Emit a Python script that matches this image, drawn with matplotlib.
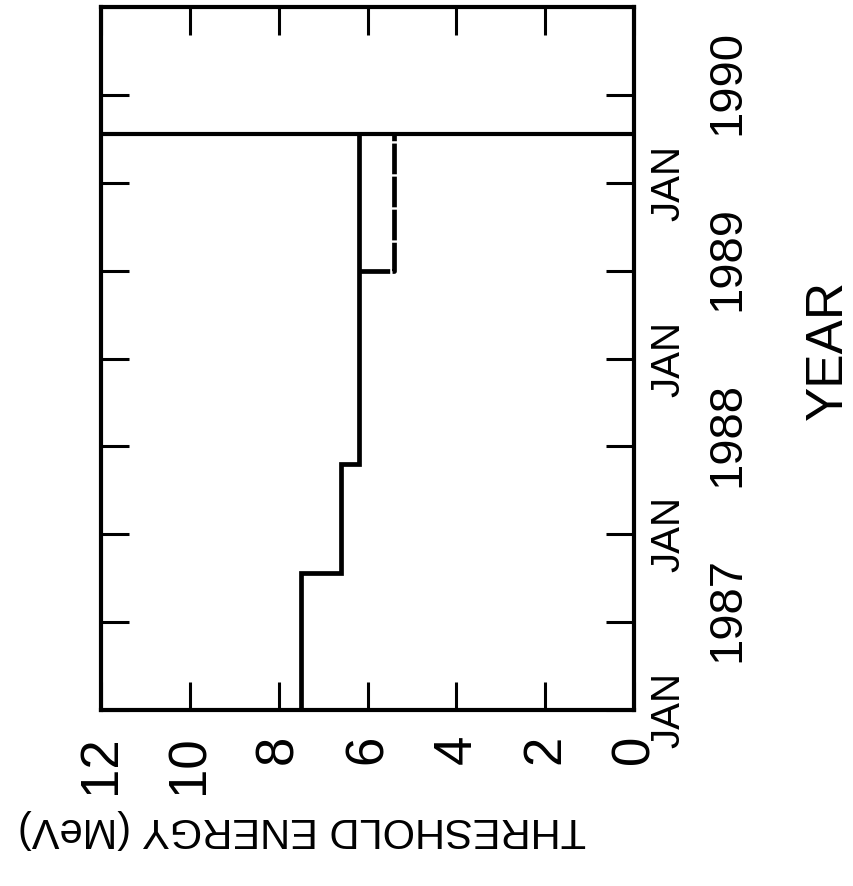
import numpy as np
import matplotlib
matplotlib.use("Agg")
import matplotlib.pyplot as plt

plt.rcParams['font.family'] = ['Liberation Sans', 'DejaVu Sans']

# threshold history: energy level (MeV) held from each change time
step_times = [1987.0, 1987.78, 1988.40]
step_energy = [7.5, 6.6, 6.2]
# second (dashed) branch, lower threshold from mid 1989
dash_time = 1989.50
dash_energy = 5.4
end_time = 1990.28

energy_ticks = [0, 2, 4, 6, 8, 10, 12]
years = [1987, 1988, 1989, 1990]

fig = plt.figure(figsize=(8.54, 8.86), dpi=100)
ax = fig.add_axes([0.1183, 0.1986, 0.6241, 0.7935])

# time runs up the page, energy runs right to left
ax.set_xlim(12, 0)
ax.set_ylim(1987, 1991)

t = np.repeat(step_times + [end_time], 2)[1:-1]
e = np.repeat(step_energy, 2)
ax.plot(e, t, color='black', lw=3.4, solid_joinstyle='miter')
ax.plot([step_energy[-1], dash_energy, dash_energy], [dash_time, dash_time, end_time],
        color='black', lw=3.4, linestyle=(0, (6.5, 0.5)))
ax.axhline(end_time, color='black', lw=3.0)

for s in ax.spines.values():
    s.set_linewidth(3.0)

ax.set_xticks(energy_ticks)
ax.set_xticklabels([str(v) for v in energy_ticks], rotation=90, fontsize=38)
ax.set_yticks(np.arange(1987, 1991.01, 0.5))
ax.set_yticklabels([])
ax.tick_params(direction='in', length=20, width=2.2, top=True, right=True,
               left=True, bottom=True)
ax.tick_params(axis='x', pad=18)

tr = ax.get_yaxis_transform()
for y in years:
    ax.text(1.0638, y, 'JAN', transform=tr, rotation=90, fontsize=29,
            ha='center', va='center', clip_on=False)
    ax.text(1.1745, y + 0.57, str(y), transform=tr, rotation=90, fontsize=34,
            ha='center', va='center', clip_on=False)

ax.set_xlabel('THRESHOLD ENERGY (MeV)', rotation=180, fontsize=30)
ax.xaxis.set_label_coords(0.377, -0.169)
ax.xaxis.label.set_va('center')
ax.yaxis.set_label_position('right')
ax.set_ylabel('YEAR', rotation=90, fontsize=37)
ax.yaxis.set_label_coords(1.364, 0.512)
ax.yaxis.label.set_va('center')

fig.savefig('out.png', dpi=100)
